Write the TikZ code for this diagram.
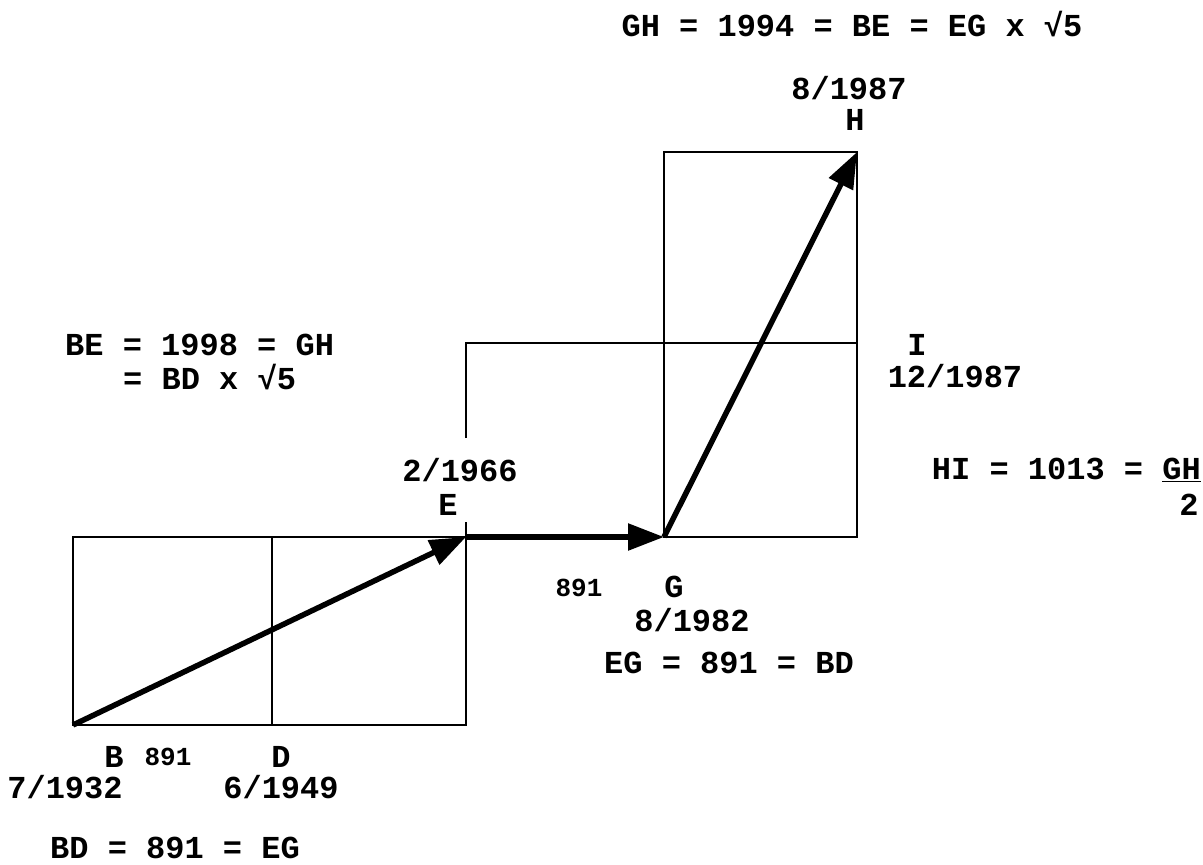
\documentclass[tikz,border=0pt]{standalone}
\usepackage{fontspec}
\newfontfamily\cour{Liberation Mono}
\usetikzlibrary{arrows.meta}
\begin{document}
\begin{tikzpicture}[x=1pt,y=-1pt,
  thin line/.style={line width=2.2pt},
  vec/.style={line width=5.5pt,-{Triangle[length=36pt,width=26pt]}},
  lab/.style={font=\cour\bfseries\fontsize{32}{32}\selectfont,inner sep=0pt},
  small/.style={font=\cour\bfseries\fontsize{26}{26}\selectfont,inner sep=0pt}]
\useasboundingbox (0,0) rectangle (1203,865);
% points
\coordinate (B) at (73,725);
\coordinate (D) at (272,725);
\coordinate (Dt) at (272,537);
\coordinate (A) at (73,537);
\coordinate (E) at (466,537);
\coordinate (Eb) at (466,725);
\coordinate (G) at (664,537);
\coordinate (R) at (857,537);
\coordinate (H) at (857,152);
\coordinate (I) at (857,343);
\coordinate (F) at (466,343);
\coordinate (Fa) at (466,438);
\coordinate (Eu) at (466,522);
% lower rectangle
\draw[thin line] (A) rectangle (Eb);
\draw[thin line] (Dt) -- (D);
% upper-right rectangle
\draw[thin line] (G) rectangle (H);
\draw[thin line] (Fa) -- (F) -- (I);
\draw[thin line] (Eu) -- (E);
\draw[thin line] (G) -- (R);
% vectors
\draw[vec] (B) -- (E);
\draw[vec] (E) -- (G);
\draw[vec] (G) -- (H);
% labels
\node[lab] (t1) at (852,24) {GH = 1994 = BE = EG x √5};
\node[lab] (hd) at (849,88) {8/1987};
\node[lab] (hl) at (855,120) {H};
\node[lab,anchor=west] (t2) at (65,345) {BE = 1998 = GH};
\node[lab,anchor=west] (t2b) at (123,377) {= BD x √5};
\node[lab] (il) at (917,345) {I};
\node[lab] (id) at (955,376) {12/1987};
\node[lab,anchor=east] (t3) at (1201,470) {HI = 1013 = \underline{GH}};
\node[lab] (t3b) at (1189,505) {2};
\node[lab] (ed) at (460,470) {2/1966};
\node[lab] (el) at (448,505) {E};
\node[small] (eg) at (579,588) {891};
\node[lab] (gl) at (674,587) {G};
\node[lab] (gd) at (692,620) {8/1982};
\node[lab] (t4) at (729,663) {EG = 891 = BD};
\node[lab] (bl) at (114,757) {B};
\node[small] (bd) at (168,757) {891};
\node[lab] (dl) at (281,757) {D};
\node[lab] (bdt) at (65,787) {7/1932};
\node[lab] (ddt) at (281,787) {6/1949};
\node[lab] (t5) at (175,848) {BD = 891 = EG};
\end{tikzpicture}
\end{document}
